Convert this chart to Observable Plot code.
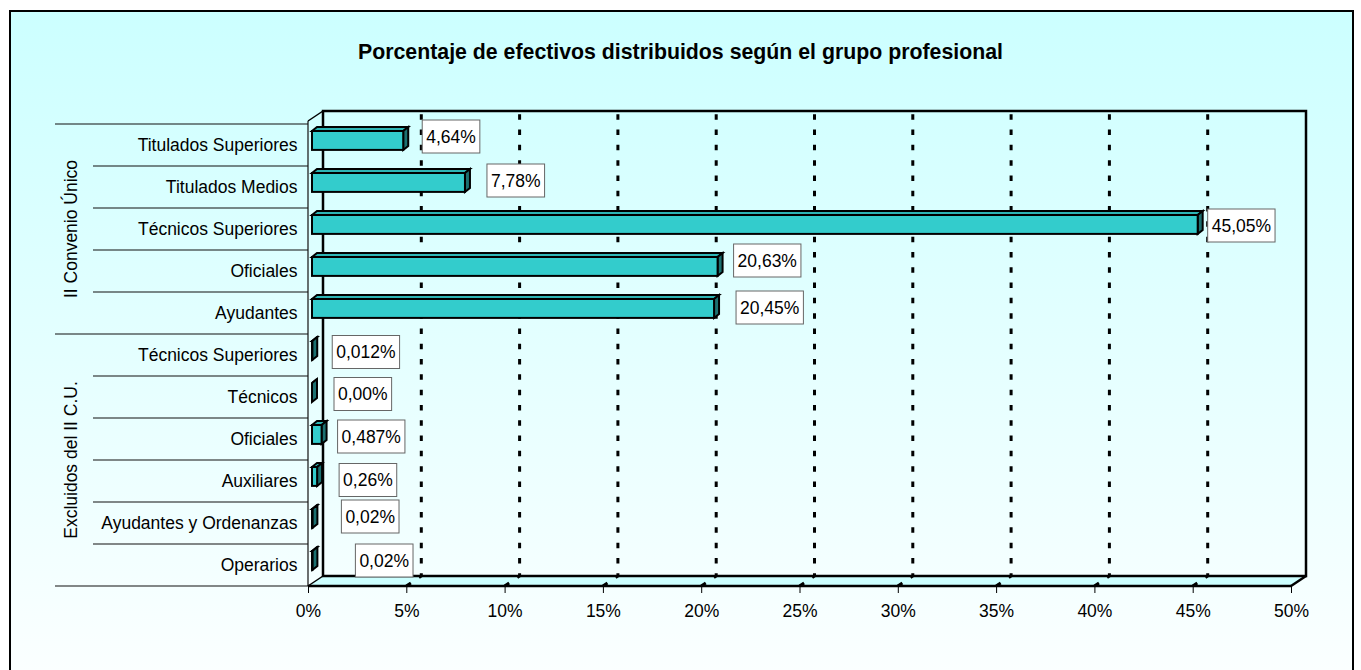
<!DOCTYPE html>
<html>
<head>
<meta charset="utf-8">
<script src="https://cdn.jsdelivr.net/npm/d3@7"></script>
<script src="https://cdn.jsdelivr.net/npm/@observablehq/plot@0.6"></script>
<style>
  html, body { margin: 0; padding: 0; background: #fff; }
  #wrap { position: relative; width: 1361px; height: 670px; overflow: hidden; background: #fff; font-family: Arial, "Liberation Sans", sans-serif; }
  #frame { position: absolute; left: 9px; top: 10px; width: 1345px; height: 720px; box-sizing: border-box;
           border: 2.5px solid #000; background: linear-gradient(to bottom, #CCFFFF 0%, #FFFFFF 100%); }
  #title { position: absolute; left: 0; top: 42px; width: 1361px; text-align: center; font-weight: bold;
           font-size: 21.3px; line-height: 21px; color: #000; }
  #chart { position: absolute; left: 0; top: 0; }
</style>
</head>
<body>
<div id="wrap">
  <div id="frame"></div>
  <div id="title">Porcentaje de efectivos distribuidos según el grupo profesional</div>
  <div id="chart"></div>
</div>
<script>
// ---- data ----
const groups = ["II Convenio Único", "Excluidos del II C.U."];
const categories = ["Titulados Superiores", "Titulados Medios", "Técnicos Superiores", "Oficiales", "Ayudantes",
                    "Técnicos Superiores", "Técnicos", "Oficiales", "Auxiliares", "Ayudantes y Ordenanzas", "Operarios"];
const categoryGroup = [0, 0, 0, 0, 0, 1, 1, 1, 1, 1, 1];
const values = [4.64, 7.78, 45.05, 20.63, 20.45, 0.012, 0.00, 0.487, 0.26, 0.02, 0.02];
const valueLabels = ["4,64%", "7,78%", "45,05%", "20,63%", "20,45%", "0,012%", "0,00%", "0,487%", "0,26%", "0,02%", "0,02%"];
const xTicks = [0, 5, 10, 15, 20, 25, 30, 35, 40, 45, 50];

// ---- layout (label placement nudges, pixels) ----
const labelNudgeX = [14, 17, 5, 11, 17, 15, 17, 11, 17, 24, 38];
const labelNudgeY = [-8.5, -6.5, -3.5, -10.5, -5.5, -3, -3, -2.5, -1, -6.5, -4.5];

const rows = categories.map((c, i) => ({key: i + "|" + c, name: c, group: categoryGroup[i], value: values[i], label: valueLabels[i], i}));
const keys = rows.map(d => d.key);
const nameOf = Object.fromEntries(rows.map(d => [d.key, d.name]));

const DX = 15, DY = -10;        // depth of the 3D box
const BX0 = 4, BD = 5, BDY = -4; // bar depth position / thickness
const FONT = 'Arial, "Liberation Sans", sans-serif';
const FS = 17.5;

function bwOf(y) { return y.bandwidth ? y.bandwidth() : (y.range()[1] - y.range()[0]) / keys.length; }

function poly(g, pts, fill, stroke, sw) {
  g.append("path").attr("d", "M" + pts.map(p => p.join(",")).join("L") + "Z")
    .attr("fill", fill).attr("stroke", stroke).attr("stroke-width", sw).attr("stroke-linejoin", "miter");
}
function line(g, x1, y1, x2, y2, stroke, sw, dash) {
  const l = g.append("line").attr("x1", x1).attr("y1", y1).attr("x2", x2).attr("y2", y2)
    .attr("stroke", stroke).attr("stroke-width", sw);
  if (dash) l.attr("stroke-dasharray", dash);
  return l;
}

// walls, floor and gridlines
function walls(index, scales, values, dimensions) {
  const {x, y} = scales;
  const g = d3.create("svg:g");
  const x0 = x(0), x1 = x(50);
  const top = y.range()[0] - 2, bottom = y.range()[1];
  poly(g, [[x0, bottom], [x1, bottom], [x1 + DX, bottom + DY], [x0 + DX, bottom + DY]], "#CCFFFF", "none", 0);
  for (const t of xTicks.slice(1, -1)) {
    const xt = x(t);
    g.append("path").attr("d", `M${xt},${bottom}L${xt + DX},${bottom + DY}L${xt + DX},${top + DY}`)
      .attr("fill", "none").attr("stroke", "#000").attr("stroke-width", 3).attr("stroke-dasharray", "5.5,9.8");
  }
  g.append("rect").attr("x", x0 + DX).attr("y", top + DY).attr("width", x1 - x0).attr("height", bottom - top)
    .attr("fill", "none").attr("stroke", "#000").attr("stroke-width", 2.5);
  line(g, x0, top, x0, bottom, "#222", 1.3);
  line(g, x0, top, x0 + DX, top + DY, "#000", 1.5);
  line(g, x0, bottom, x0 + DX, bottom + DY, "#000", 1.5);
  line(g, x1, bottom, x1 + DX, bottom + DY, "#000", 2.5);
  line(g, x0, bottom, x1, bottom, "#000", 2.5);
  return g.node();
}

// top and side faces of the 3D bars
function barFaces(index, scales) {
  const {x, y} = scales;
  const g = d3.create("svg:g");
  for (const d of rows) {
    const xa = x(0) + BX0, xb = x(d.value) + BX0;
    const yt = y(d.key) + 7, yb = y(d.key) + 26;
    poly(g, [[xa, yt], [xa + BD, yt + BDY], [xb + BD, yt + BDY], [xb, yt]], "#2DB5B5", "#000", 2);
    poly(g, [[xb, yt], [xb + BD, yt + BDY], [xb + BD, yb + BDY], [xb, yb]], "#1C7070", "#000", 2);
  }
  return g.node();
}

// boxed value labels
const ctx = document.createElement("canvas").getContext("2d");
ctx.font = `${FS}px ${FONT}`;
function valueBoxes(index, scales) {
  const {x, y} = scales;
  const bw = bwOf(y);
  const g = d3.create("svg:g");
  rows.forEach((d, i) => {
    const w = ctx.measureText(d.label).width + 8;
    const left = x(d.value) + BX0 + BD + labelNudgeX[i];
    const cy = y(d.key) + bw / 2 + labelNudgeY[i];
    g.append("rect").attr("x", left).attr("y", cy - 16.5).attr("width", w).attr("height", 33)
      .attr("fill", "#fff").attr("stroke", "#666").attr("stroke-width", 1);
    g.append("text").attr("x", left + w / 2).attr("y", cy).attr("dy", "0.35em")
      .attr("text-anchor", "middle").attr("font-size", FS).attr("font-family", FONT).attr("fill", "#000").text(d.label);
  });
  return g.node();
}

// category separators and group labels at the left
function scaffold(index, scales) {
  const {x, y} = scales;
  const bw = bwOf(y);
  const g = d3.create("svg:g");
  const xr = x(0);
  rows.forEach((d, i) => {
    const yy = y(d.key);
    const outer = i === 0 || categoryGroup[i] !== categoryGroup[i - 1];
    line(g, outer ? 55 : 93, yy, xr, yy, "#111", 1.2);
  });
  line(g, 55, y(keys[keys.length - 1]) + bw, xr, y(keys[keys.length - 1]) + bw, "#111", 1.2);
  groups.forEach((name, gi) => {
    const members = rows.filter(d => d.group === gi);
    const y0 = y(members[0].key), y1 = y(members[members.length - 1].key) + bw;
    const cy = (y0 + y1) / 2;
    g.append("text").attr("transform", `translate(77,${cy}) rotate(-90)`).attr("text-anchor", "middle")
      .attr("font-size", FS).attr("font-family", FONT).attr("fill", "#000").text(name);
  });
  return g.node();
}

const chart = Plot.plot({
  width: 1361,
  height: 670,
  marginLeft: 308,
  marginRight: 70,
  marginTop: 123,
  marginBottom: 84,
  style: {background: "transparent", fontFamily: FONT, fontSize: FS + "px", color: "#000", overflow: "visible"},
  x: {domain: [0, 50], ticks: xTicks, tickFormat: d => d + "%", tickSize: 7, tickPadding: 11, label: null},
  y: {domain: keys, padding: 0, tickSize: 0, tickPadding: 11, tickFormat: k => nameOf[k], label: null},
  marks: [
    walls,
    barFaces,
    Plot.barX(rows, {x1: d => 0, x2: "value", y: "key", insetTop: 7, insetBottom: 16.1, dx: BX0,
                     fill: "#33CCCC", stroke: "#000", strokeWidth: 2}),
    valueBoxes,
    scaffold
  ]
});
document.getElementById("chart").appendChild(chart);
</script>
</body>
</html>
